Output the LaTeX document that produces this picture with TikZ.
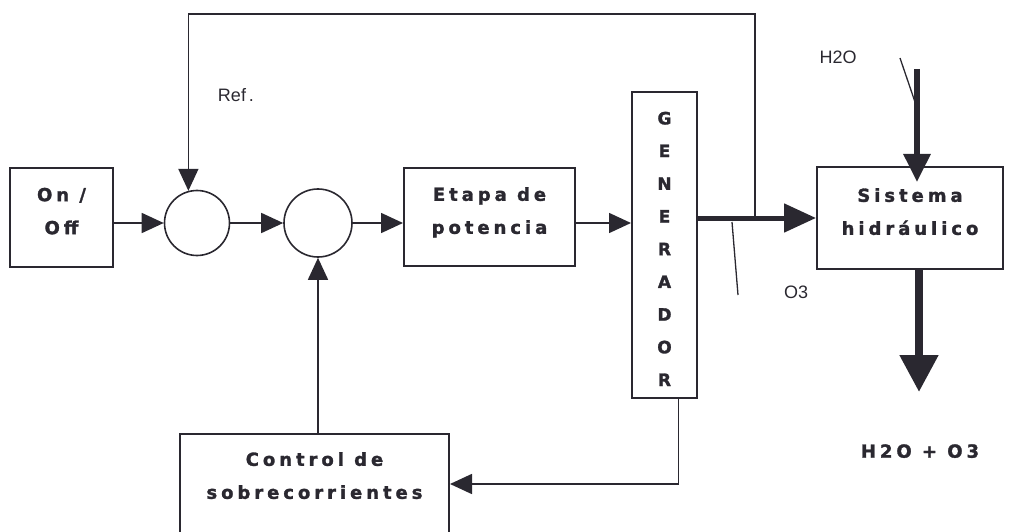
\documentclass[tikz,border=0pt]{standalone}
\usepackage{fontspec}
\setmainfont{Liberation Sans}
\newfontfamily\heavyfont{DejaVu Sans Bold}[LetterSpace=22, FakeBold=1.6]
\usetikzlibrary{arrows.meta, positioning}
\definecolor{ink}{HTML}{2A2830}
\tikzset{x=1pt,y=-1pt}
\tikzset{
  block/.style={draw=ink, line width=2pt, inner sep=0pt, align=center,
    text=ink, text depth=13pt, font=\heavyfont\fontsize{18}{33}\selectfont},
  junction/.style={draw=ink, circle, line width=1.6pt, inner sep=0pt},
  sig/.style={draw=ink, line width=1.6pt, -{Triangle[length=22pt,width=20pt]}},
  flow/.style={draw=ink, line width=#1},
  tick/.style={draw=ink, line width=1.3pt},
  tag/.style={text=ink, font=\fontsize{18}{20}\selectfont}
}

\begin{document}
\begin{tikzpicture}
\useasboundingbox (0,0) rectangle (1012,532);
    % blocks
    \node[block, minimum width=103pt, minimum height=99pt] (onoff) at (61.5,217.5) {On /\\Off};
    \node[junction, minimum size=65pt] (c1) at (197,223) {};
    \node[junction, minimum size=68pt] (c2) at (318,223) {};
    \node[block, minimum width=171pt, minimum height=98pt] (etapa) at (489.5,217) {Etapa de\\potencia};
    \node[block, minimum width=65pt, minimum height=306pt, text depth=0pt, text height=282pt,
      font=\heavyfont\fontsize{17}{32.7}\selectfont] (gen) at (664.5,245)
      {G\\E\\N\\E\\R\\A\\D\\O\\R};
    \node[block, minimum width=186pt, minimum height=102pt] (sist) at (910,218) {Sistema\\hidráulico};
    \node[block, minimum width=269pt, minimum height=100pt, text depth=17pt] (ctrl) at (314.5,484) {Control de\\sobrecorrientes};

    % texts
    \node[tag] (ref) at (236,95) {Ref\,.};
    \node[tag] (h2o) at (838,57) {H2O};
    \node[tag] (o3) at (796,292) {O3};
    \node[block, draw=none, text depth=4pt] (prod) at (920,453) {H2O + O3};

    \coordinate (tap) at (755,218);
    \coordinate (topline) at (0,14);
    \coordinate (h2oin) at (917,69);
    \coordinate (mix) at (919,392);

    % signal path
    \draw[sig] (onoff.east |- c1.west) -- (c1.west);
    \draw[sig] (c1.east) -- (c2.west);
    \draw[sig] (c2.east) -- (c2.east -| etapa.west);
    \draw[sig] (etapa.east |- c2.east) -- (c2.east -| gen.west);
    \draw[sig] (tap) |- (c1.105 |- topline) -- (c1.105);
    \draw[sig] ([xshift=14pt]gen.south) |- (ctrl.east);
    \draw[sig] (c2.south |- ctrl.north) -- (c2.south);

    % flows
    \draw[flow=5pt, -{Triangle[length=32pt,width=28pt]}] (gen.east |- sist.west) -- (sist.west);
    \draw[flow=6pt, -{Triangle[length=28pt,width=26pt]}] (h2oin) -- ([yshift=-16pt]sist.north -| h2oin);
    \draw[flow=8pt, -{Triangle[length=37pt,width=37pt]}] (sist.south -| mix) -- (mix);

    % ticks
    \draw[tick] (900,58) -- (915,102);
    \draw[tick] (732,222) -- (738,295);
\end{tikzpicture}
\end{document}
